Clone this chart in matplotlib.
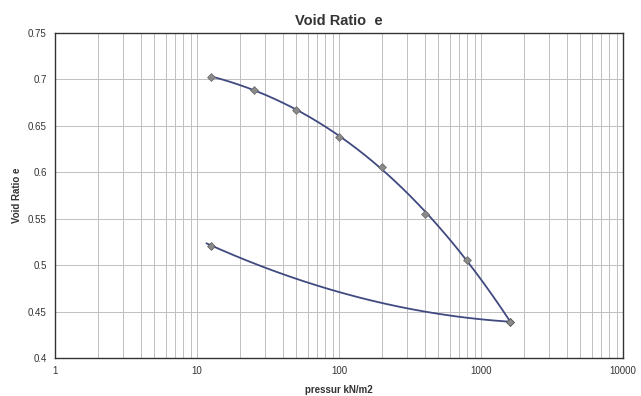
import matplotlib
matplotlib.use("Agg")
import matplotlib.pyplot as plt
import numpy as np
from matplotlib.ticker import FixedLocator, NullFormatter

plt.rcParams['font.family'] = ['Liberation Sans', 'DejaVu Sans']

# loading readings (kN/m2, void ratio)
load_p = [12.5, 25, 50, 100, 200, 400, 800, 1600]
load_e = [0.703, 0.689, 0.667, 0.638, 0.606, 0.555, 0.506, 0.439]

# unloading: marked readings and the trend line
unload_p = [12.5, 1600]
unload_e = [0.521, 0.439]
unload_curve_p = [12.5, 25, 50, 100, 200, 400, 800, 1600]
unload_curve_e = [0.521, 0.502, 0.486, 0.471, 0.459, 0.449, 0.444, 0.439]

y_ticks = [0.4, 0.45, 0.5, 0.55, 0.6, 0.65, 0.7, 0.75]
y_labels = ['0.4', '0.45', '0.5', '0.55', '0.6', '0.65', '0.7', '0.75']
x_ticks = [1, 10, 100, 1000, 10000]
x_labels = ['1', '10', '100', '1000', '10000']

line_col = '#404a80'
grid_col = '#c0c0c0'

fig = plt.figure(figsize=(6.41, 3.96), dpi=100)
ax = fig.add_axes([0.086, 0.096, 0.886, 0.821])

# polynomial trend lines in log space (like the spreadsheet trendline)
lp = np.log10(load_p)
c = np.polyfit(lp, load_e, 3)
xs = np.linspace(lp[0], lp[-1], 200)
ax.plot(10 ** xs, np.polyval(c, xs), color=line_col, lw=1.3, zorder=3)

up = np.log10(unload_curve_p)
c2 = np.polyfit(up, unload_curve_e, 2)
xs2 = np.linspace(up[0] - 0.03, up[-1], 200)
ax.plot(10 ** xs2, np.polyval(c2, xs2), color=line_col, lw=1.3, zorder=3)

ax.scatter(load_p, load_e, marker='D', s=16, color='#8a8a8a',
           edgecolors='#666666', linewidths=0.5, zorder=4)
ax.scatter(unload_p, unload_e, marker='D', s=16, color='#8a8a8a',
           edgecolors='#555555', linewidths=0.5, zorder=4)

ax.set_xscale('log')
ax.set_xlim(1, 10000)
ax.set_ylim(0.4, 0.75)

ax.xaxis.set_major_locator(FixedLocator(x_ticks))
ax.set_xticklabels(x_labels)
ax.xaxis.set_minor_locator(FixedLocator(
    [m * 10 ** d for d in range(4) for m in range(2, 10)]))
ax.xaxis.set_minor_formatter(NullFormatter())
ax.set_yticks(y_ticks)
ax.set_yticklabels(y_labels)

ax.grid(True, which='both', axis='x', color=grid_col, lw=0.7)
ax.grid(True, which='major', axis='y', color=grid_col, lw=0.7)
ax.set_axisbelow(True)
ax.tick_params(which='both', length=0, labelsize=7, pad=6, colors='#333333')

for s in ax.spines.values():
    s.set_color('#333333')
    s.set_linewidth(1.0)

ax.set_title('Void Ratio  e', fontsize=10.5, fontweight='bold', pad=6,
             color='#333333')
ax.set_xlabel('pressur kN/m2', fontsize=7, fontweight='bold', labelpad=6,
              color='#333333')
ax.set_ylabel('Void Ratio e', fontsize=7, fontweight='bold', labelpad=4,
              color='#333333')

fig.savefig('out.png', dpi=100)
